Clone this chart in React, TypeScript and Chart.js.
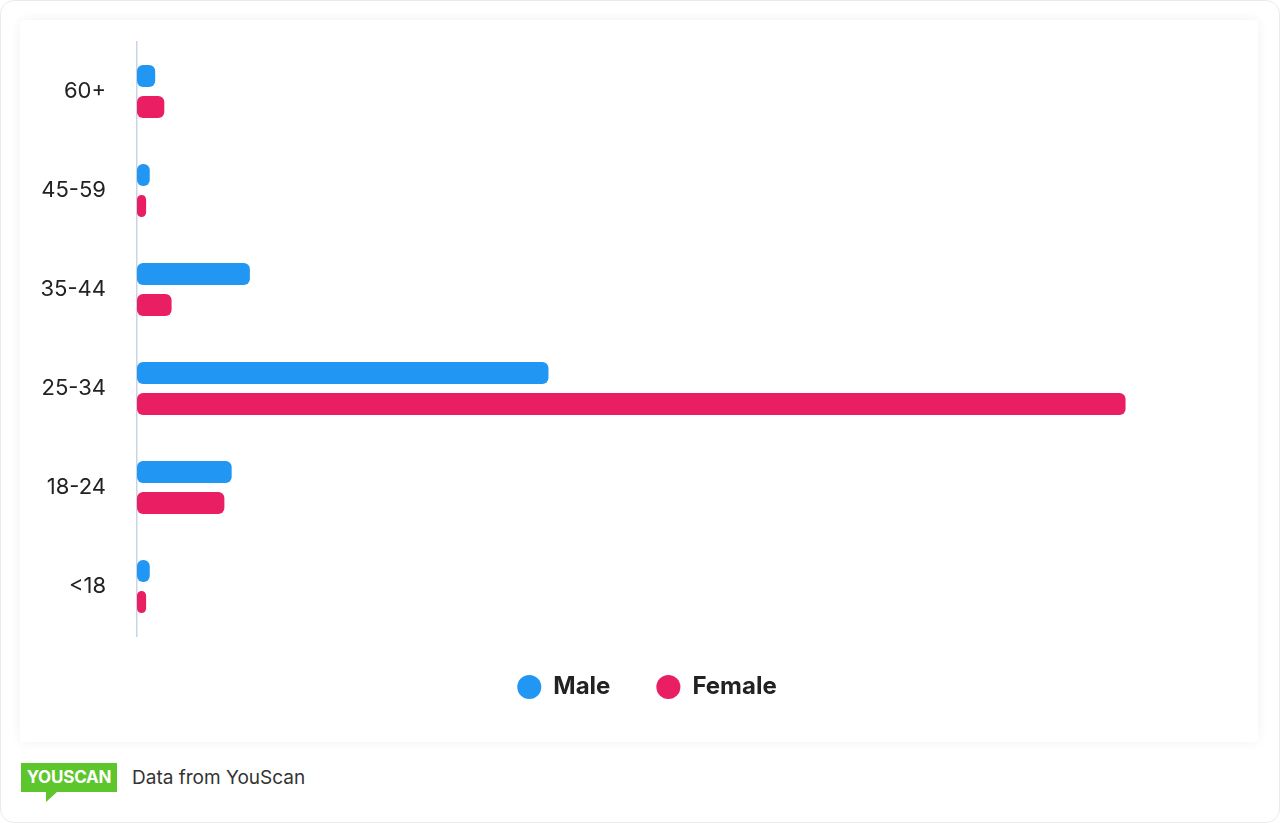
import React, { useEffect, useRef } from "react";
import { Chart, registerables } from "chart.js";

Chart.register(...registerables);

const categories = ["60+", "45-59", "35-44", "25-34", "18-24", "<18"];
const maleValues = [1.0, 0.7, 6.2, 22.6, 5.2, 0.7];
const femaleValues = [1.5, 0.5, 1.9, 54.3, 4.8, 0.5];
const seriesLabels = ["Male", "Female"];
const seriesColors = ["#2196F3", "#E91E63"];

const legendShift = {
  id: "legendShift",
  afterLayout(chart: any) {
    const lg = chart.legend;
    if (lg) {
      lg.top -= 7;
      lg.bottom -= 7;
    }
  },
};

function BarChart() {
  const ref = useRef<HTMLCanvasElement | null>(null);
  useEffect(() => {
    if (!ref.current) return;
    const chart = new Chart(ref.current, {
      type: "bar",
      data: {
        labels: categories,
        datasets: [
          {
            label: seriesLabels[0],
            data: maleValues,
            backgroundColor: seriesColors[0],
            borderRadius: 6,
            borderSkipped: false,
            categoryPercentage: 0.626,
            barPercentage: 0.71,
          },
          {
            label: seriesLabels[1],
            data: femaleValues,
            backgroundColor: seriesColors[1],
            borderRadius: 6,
            borderSkipped: false,
            categoryPercentage: 0.626,
            barPercentage: 0.71,
          },
        ],
      },
      options: {
        indexAxis: "y",
        animation: false,
        responsive: false,
        maintainAspectRatio: false,
        layout: { autoPadding: false, padding: { left: 21, right: 5, top: 22, bottom: 26 } },
        scales: {
          x: {
            display: false,
            min: 0,
            max: 61.3,
          },
          y: {
            grid: { display: false, drawTicks: false },
            border: { display: true, color: "#c9d4e8", width: 1.5 },
            ticks: {
              padding: 31,
              color: "#222222",
              font: { family: "Inter", size: 22 },
            },
            afterFit: (scale: any) => {
              scale.width = 96;
              scale.paddingTop = 0;
              scale.paddingBottom = 0;
            },
          },
        },
        plugins: {
          legend: {
            position: "bottom",
            labels: {
              usePointStyle: true,
              pointStyle: "circle",
              boxWidth: 24,
              boxHeight: 17,
              padding: 46,
              color: "#222222",
              font: { family: "Inter", size: 24, weight: "bold" },
            },
          },
          tooltip: { enabled: false },
        },
      },
      plugins: [legendShift],
    });
    return () => chart.destroy();
  }, []);
  return <canvas ref={ref} width={1238} height={722} style={{ display: "block" }} />;
}

export default function App() {
  return (
    <div
      style={{
        position: "fixed",
        left: 0,
        top: 0,
        width: 1280,
        height: 823,
        background: "#ffffff",
        fontFamily: "Inter, sans-serif",
      }}
    >
      <div
        style={{
          position: "absolute",
          left: 0,
          top: 0,
          width: 1278,
          height: 821,
          border: "1px solid #ebebeb",
          borderRadius: 14,
          boxSizing: "content-box",
        }}
      />
      <div
        style={{
          position: "absolute",
          left: 20,
          top: 20,
          width: 1238,
          height: 722,
          background: "#ffffff",
          boxShadow: "0 0 12px rgba(0,0,0,0.06)",
          borderRadius: 4,
        }}
      >
        <BarChart />
      </div>
      <div
        style={{
          position: "absolute",
          left: 21,
          top: 763,
          width: 96,
          height: 29,
          background: "#5cc62c",
          color: "#ffffff",
          fontWeight: 700,
          fontSize: 17,
          lineHeight: "29px",
          textAlign: "center",
          letterSpacing: -0.2,
        }}
      >
        YOUSCAN
      </div>
      <div
        style={{
          position: "absolute",
          left: 46,
          top: 792,
          width: 0,
          height: 0,
          borderLeft: "0px solid transparent",
          borderRight: "11px solid transparent",
          borderTop: "10px solid #5cc62c",
        }}
      />
      <div
        style={{
          position: "absolute",
          left: 132,
          top: 766,
          fontSize: 19,
          color: "#333333",
          lineHeight: "24px",
        }}
      >
        Data from YouScan
      </div>
    </div>
  );
}
